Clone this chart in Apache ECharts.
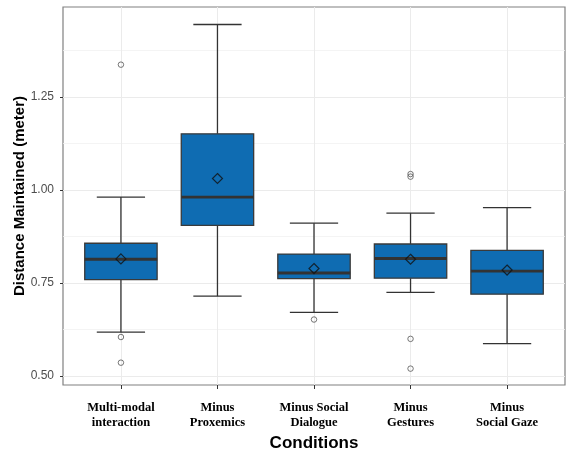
<!DOCTYPE html>
<html>
<head>
<meta charset="utf-8">
<script src="https://cdn.jsdelivr.net/npm/echarts@6/dist/echarts.min.js"></script>
<style>html,body{margin:0;padding:0;background:#fff;}#c{width:568px;height:450px;}</style>
</head>
<body>
<div id="c"></div>
<script>
var categories = ['Multi-modal\ninteraction', 'Minus\nProxemics', 'Minus Social\nDialogue', 'Minus\nGestures', 'Minus\nSocial Gaze'];
var lowerWhisker = [0.618, 0.715, 0.671, 0.725, 0.587];
var q1 = [0.759, 0.905, 0.762, 0.763, 0.720];
var median = [0.814, 0.981, 0.777, 0.816, 0.782];
var q3 = [0.857, 1.151, 0.828, 0.855, 0.838];
var upperWhisker = [0.981, 1.445, 0.911, 0.938, 0.953];
var means = [0.815, 1.031, 0.789, 0.814, 0.785];
var outliers = [[0, 1.337], [0, 0.605], [0, 0.536], [2, 0.652], [3, 1.036], [3, 1.043], [3, 0.600], [3, 0.520]];
var yMajorTicks = [0.5, 0.75, 1.0, 1.25];
var yMinorTicks = [0.625, 0.875, 1.125, 1.375];

var positions = categories.map(function (c, i) { return i + 1; });
var boxData = categories.map(function (c, i) {
  return [i + 1, lowerWhisker[i], q1[i], median[i], q3[i], upperWhisker[i]];
});
var meanData = means.map(function (m, i) { return [i + 1, m]; });
var outlierData = outliers.map(function (o) { return [o[0] + 1, o[1]]; });

var chart = echarts.init(document.getElementById('c'), null, { renderer: 'canvas' });

function renderBox(params, api) {
  var x = api.value(0);
  var boxW = api.size([0.75, 0])[0];
  var capW = api.size([0.5, 0])[0];
  var pLo = api.coord([x, api.value(1)]);
  var pQ1 = api.coord([x, api.value(2)]);
  var pMed = api.coord([x, api.value(3)]);
  var pQ3 = api.coord([x, api.value(4)]);
  var pHi = api.coord([x, api.value(5)]);
  var cx = pMed[0];
  var lineStyle = { stroke: '#333333', lineWidth: 1.3 };
  return {
    type: 'group',
    children: [
      { type: 'line', shape: { x1: cx, y1: pHi[1], x2: cx, y2: pQ3[1] }, style: lineStyle },
      { type: 'line', shape: { x1: cx, y1: pQ1[1], x2: cx, y2: pLo[1] }, style: lineStyle },
      { type: 'line', shape: { x1: cx - capW / 2, y1: pHi[1], x2: cx + capW / 2, y2: pHi[1] }, style: lineStyle },
      { type: 'line', shape: { x1: cx - capW / 2, y1: pLo[1], x2: cx + capW / 2, y2: pLo[1] }, style: lineStyle },
      { type: 'rect', shape: { x: cx - boxW / 2, y: pQ3[1], width: boxW, height: pQ1[1] - pQ3[1] },
        style: { fill: '#0F6CB2', stroke: '#3a3a3a', lineWidth: 1.3 } },
      { type: 'line', shape: { x1: cx - boxW / 2, y1: pMed[1], x2: cx + boxW / 2, y2: pMed[1] },
        style: { stroke: '#333333', lineWidth: 2.8 } }
    ]
  };
}

var option = {
  animation: false,
  backgroundColor: '#ffffff',
  grid: {
    left: 63, right: 3, top: 7, bottom: 65,
    outerBoundsMode: 'none', containLabel: false,
    show: true, borderColor: '#808080', borderWidth: 1.2, backgroundColor: '#ffffff'
  },
  xAxis: {
    type: 'value', min: 0.4, max: 5.6,
    name: 'Conditions', nameLocation: 'middle', nameGap: 49,
    nameTextStyle: { fontFamily: 'Liberation Sans', fontWeight: 'bold', fontSize: 17, color: '#000' },
    axisLine: { show: false },
    axisTick: { show: true, customValues: positions, length: 4, lineStyle: { color: '#333', width: 1 } },
    axisLabel: {
      customValues: positions, margin: 15,
      formatter: function (v) { return categories[Math.round(v) - 1] || ''; },
      fontFamily: 'Liberation Serif', fontWeight: 'bold', fontSize: 12.5, lineHeight: 15, color: '#000'
    },
    splitLine: { show: true, lineStyle: { color: '#ebebeb', width: 1 } }
  },
  yAxis: [{
    type: 'value', min: 0.476, max: 1.492,
    name: 'Distance Maintained (meter)', nameLocation: 'middle', nameGap: 36, nameMoveOverlap: false,
    nameTextStyle: { fontFamily: 'Liberation Sans', fontWeight: 'bold', fontSize: 15, color: '#000' },
    axisLine: { show: false },
    axisTick: { show: true, customValues: yMajorTicks, length: 3, lineStyle: { color: '#333', width: 1 } },
    axisLabel: {
      customValues: yMajorTicks, margin: 9,
      formatter: function (v) { return v.toFixed(2); },
      fontFamily: 'Liberation Sans', fontSize: 12, color: '#4d4d4d'
    },
    splitLine: { show: true, lineStyle: { color: '#ebebeb', width: 1 } }
  }, {
    type: 'value', min: 0.476, max: 1.492, position: 'left',
    axisLine: { show: false },
    axisTick: { show: false, customValues: yMinorTicks },
    axisLabel: { show: false, customValues: yMinorTicks },
    splitLine: { show: true, lineStyle: { color: '#f1f1f1', width: 0.8 } }
  }],
  series: [{
    type: 'custom',
    renderItem: renderBox,
    encode: { x: 0, y: [1, 2, 3, 4, 5] },
    data: boxData,
    z: 2
  }, {
    type: 'scatter',
    data: outlierData,
    symbol: 'circle', symbolSize: 5.5,
    itemStyle: { color: 'rgba(255,255,255,0)', borderColor: '#555', borderWidth: 1 },
    z: 3
  }, {
    type: 'scatter',
    data: meanData,
    symbol: 'diamond', symbolSize: 10,
    itemStyle: { color: 'rgba(0,0,0,0)', borderColor: '#111', borderWidth: 1.2 },
    z: 4
  }]
};
chart.setOption(option);
</script>
</body>
</html>
